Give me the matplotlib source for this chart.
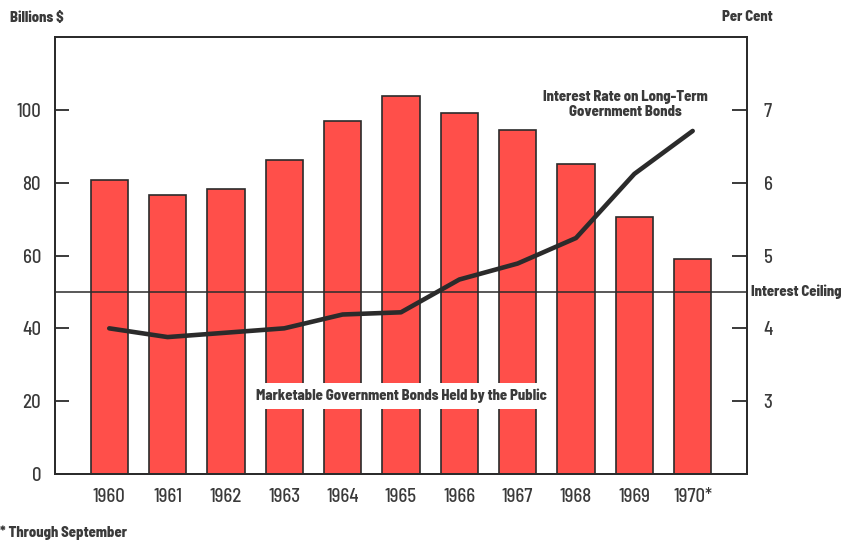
import numpy as np
import matplotlib
matplotlib.use('Agg')
import matplotlib.pyplot as plt

plt.rcParams['font.family'] = ['Barlow Semi Condensed', 'DejaVu Sans']

# 数据
years = ['1960', '1961', '1962', '1963', '1964', '1965', '1966', '1967', '1968', '1969', '1970*']
bonds_public = [80.8, 76.7, 78.3, 86.3, 97.0, 103.9, 99.1, 94.5, 85.2, 70.5, 59.1]   # 十亿美元
long_rate = [4.00, 3.88, 3.94, 4.00, 4.19, 4.22, 4.67, 4.89, 5.24, 6.12, 6.71]      # 百分比
ceiling = 4.5

red = '#ff4f4a'
ink = '#2b2b2b'
txt = '#3a3a3a'

fig = plt.figure(figsize=(8.42, 5.40), dpi=100)
ax = fig.add_axes([0.0653, 0.1222, 0.8218, 0.8093])
ax2 = ax.twinx()

x = np.arange(len(years))
ax.bar(x, bonds_public, width=0.64, color=red, edgecolor=ink, linewidth=1.2, zorder=2)

ax.set_xlim(-0.93, len(years) - 1 + 0.93)
ax.set_ylim(0, 120)
ax.set_yticks([0, 20, 40, 60, 80, 100])
ax.set_xticks(x)
ax.set_xticklabels(years)
ax.tick_params(axis='x', length=0, pad=10, labelsize=13.5, labelcolor=txt)
ax.tick_params(axis='y', direction='in', length=10, width=1.3, color=ink,
               pad=10, labelsize=13.5, labelcolor=txt)
for lab in ax.get_xticklabels() + ax.get_yticklabels():
    lab.set_fontweight(500)

ax2.set_ylim(2, 8)
ax2.set_yticks([3, 4, 5, 6, 7])
ax2.tick_params(axis='y', direction='in', length=11, width=1.3, color=ink,
                pad=12, labelsize=13.5, labelcolor=txt)
for lab in ax2.get_yticklabels():
    lab.set_fontweight(500)

for a in (ax, ax2):
    for s in a.spines.values():
        s.set_color(ink)
        s.set_linewidth(1.3)

ax.set_zorder(1)
ax2.set_zorder(2)
ax2.patch.set_visible(False)

# 利率上限和长期国债利率
ax2.axhline(ceiling, color=ink, linewidth=1.1, zorder=3)
ax2.plot(x, long_rate, color=ink, linewidth=3.3, solid_capstyle='round',
         solid_joinstyle='round', zorder=4)

bold = dict(fontsize=10.5, fontweight=800, color=txt)
ax2.text(1.006, ceiling, 'Interest Ceiling', transform=ax2.get_yaxis_transform(),
         ha='left', va='center', **bold)
ax2.text(8.85, 7.07, 'Interest Rate on Long-Term\nGovernment Bonds', ha='center',
         va='center', linespacing=1.05, zorder=5, **bold)
ax.text(5, 21.5, 'Marketable Government Bonds Held by the Public', ha='center',
        va='center', zorder=5,
        bbox=dict(boxstyle='square,pad=0.4', facecolor='white', edgecolor='none'), **bold)

fig.text(0.012, 0.967, 'Billions $', ha='left', va='center', **bold)
fig.text(0.888, 0.969, 'Per Cent', ha='center', va='center', **bold)
fig.text(0.0, 0.013, '* Through September', ha='left', va='center', **bold)

fig.savefig('out.png', dpi=100)
